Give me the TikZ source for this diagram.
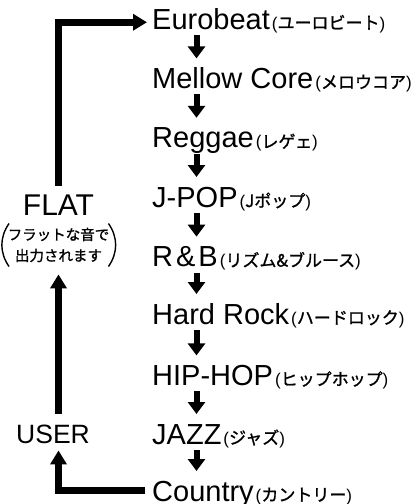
\documentclass[tikz,border=0pt]{standalone}
\usepackage{fontspec}
\setmainfont{Liberation Sans}
\newfontfamily\cjk[FakeBold=1.2]{Noto Sans CJK JP}
\usetikzlibrary{arrows.meta,calc}
\begin{document}
\begin{tikzpicture}[x=1pt,y=-1pt,
  genre/.style={anchor=base west, inner sep=0pt, font=\fontsize{29}{29}\selectfont},
  big/.style={anchor=base, inner sep=0pt, font=\fontsize{30}{30}\selectfont},
  note/.style={inner sep=0pt, align=center, font=\cjk\fontsize{14.5}{21}\selectfont},
  loop arrow/.style={line width=7pt, -{Triangle[width=16pt,length=14pt]}},
  down arrow/.style={line width=6pt, -{Triangle[width=17pt,length=12pt]}},
  paren/.style={line width=1.4pt}]
\useasboundingbox (0,0) rectangle (415,504);
\newcommand\jpt[1]{{\fontsize{17}{17}\selectfont\kern2pt(}{\cjk\fontsize{17}{17}\selectfont#1}{\fontsize{17}{17}\selectfont)}}
\node[genre] (r1) at (152,29)    {Eurobeat\jpt{ユーロビート}};
\node[genre] (r2) at (152,88.4)  {Mellow Core\jpt{メロウコア}};
\node[genre] (r3) at (152,147.8) {Reggae\jpt{レゲェ}};
\node[genre] (r4) at (152,207)   {J-POP\jpt{Jポップ}};
\node[genre] (r5) at (152,266.6) {R\kern3pt\&\kern3pt B\jpt{リズム\&ブルース}};
\node[genre] (r6) at (152,324)   {Hard Rock\jpt{ハードロック}};
\node[genre] (r7) at (152,385.4) {HIP-HOP\jpt{ヒップホップ}};
\node[genre] (r8) at (152,444)   {JAZZ\jpt{ジャズ}};
\node[genre] (r9) at (152,501)   {Country\jpt{カントリー}};
\foreach \a/\b in {r1/r2,r2/r3,r3/r4,r4/r5,r5/r6,r6/r7,r7/r8,r8/r9}
  \draw[down arrow] ($(\a.base west)+(44.5,6)$) -- ($(\b.base west)+(44.5,-30)$);
\node[big] (flat) at (58.5,215) {FLAT};
\node[note] (nt) at (58.5,245) {フラットな音で\\出力されます};
\draw[paren] ($(nt.west)+(1.5,-21.5)$) to[bend right=35] ($(nt.west)+(1.5,21.5)$);
\draw[paren] ($(nt.east)+(-1,-21.5)$) to[bend left=35] ($(nt.east)+(-1,21.5)$);
\node[big, anchor=base west, font=\fontsize{26.5}{26.5}\selectfont] (user) at (16,443) {USER};
\draw[loop arrow] ($(flat.north)+(0,-8)$) |- ($(r1.west)+(-5,2)$);
\draw[loop arrow] ($(user.north -| flat.north)+(0,-10)$) -- ($(nt.south)+(0,12)$);
\draw[loop arrow] ($(r9.base west)+(-7,-11)$) -| ($(user.south -| flat.south)+(0,7)$);
\end{tikzpicture}
\end{document}
